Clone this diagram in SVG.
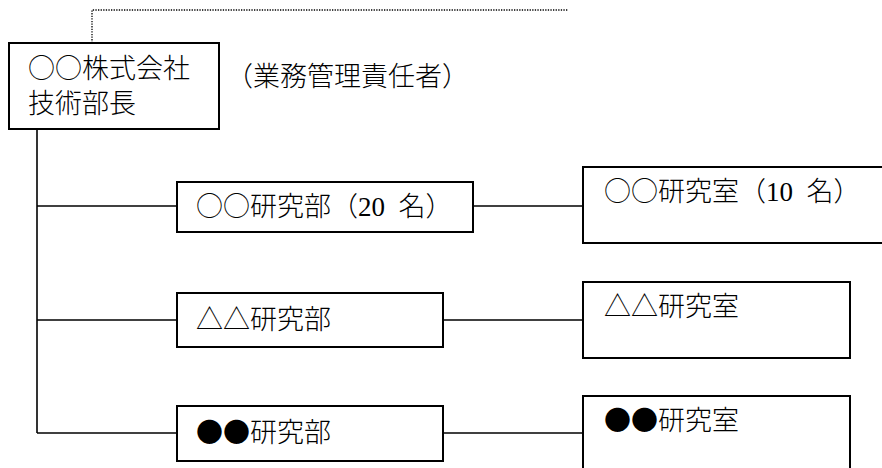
<svg xmlns="http://www.w3.org/2000/svg" width="882" height="468" viewBox="0 0 882 468">
<style>
  .box { fill: #ffffff; stroke: #000000; stroke-width: 2; }
  .ln { fill: none; stroke: #000000; stroke-width: 1.6; }
  .dot { fill: none; stroke: #000000; stroke-width: 1.3; stroke-dasharray: 1.3 1.3; }
  .t { font-family: "Noto Sans CJK JP", "Noto Sans CJK SC", sans-serif; font-size: 27px; font-weight: 300; fill: #000000; }
  .t2 { font-family: "Liberation Sans", "Noto Sans CJK JP", sans-serif; }
  .num { font-family: "Liberation Serif", serif; font-weight: 400; }
</style>
<rect width="882" height="468" fill="#ffffff"/>
<g id="connectors">
  <path class="dot" d="M92,43 V10 H568"/>
  <path class="ln" d="M37,129 V433"/>
  <path class="ln" d="M37,206 H177"/>
  <path class="ln" d="M37,320 H177"/>
  <path class="ln" d="M37,433 H177"/>
  <path class="ln" d="M473,206 H583"/>
  <path class="ln" d="M443,320 H583"/>
  <path class="ln" d="M443,433 H583"/>
</g>
<g id="manager">
  <rect class="box" x="9" y="43" width="210" height="86"/>
  <text class="t" x="28" y="78">○○株式会社</text>
  <text class="t t2" x="28" y="113">技術部長</text>
</g>
<g id="role-note">
  <text class="t" x="226" y="86">（業務管理責任者）</text>
</g>
<g id="dept1">
  <rect class="box" x="177" y="182" width="296" height="50"/>
  <text class="t" x="196" y="216">○○研究部（<tspan class="num">20</tspan><tspan class="num"> </tspan><tspan x="398.5">名）</tspan></text>
</g>
<g id="lab1">
  <rect class="box" x="583" y="167" width="304" height="76"/>
  <text class="t" x="604" y="201">○○研究室（<tspan class="num">10</tspan><tspan class="num"> </tspan><tspan x="806.5">名）</tspan></text>
</g>
<g id="dept2">
  <rect class="box" x="177" y="293" width="266" height="54"/>
  <text class="t" x="196" y="329">△△研究部</text>
</g>
<g id="lab2">
  <rect class="box" x="583" y="282" width="267" height="76"/>
  <text class="t" x="604" y="316">△△研究室</text>
</g>
<g id="dept3">
  <rect class="box" x="177" y="406" width="266" height="55"/>
  <text class="t" x="196" y="442">●●研究部</text>
</g>
<g id="lab3">
  <rect class="box" x="583" y="396" width="267" height="80"/>
  <text class="t" x="604" y="430">●●研究室</text>
</g>
</svg>
